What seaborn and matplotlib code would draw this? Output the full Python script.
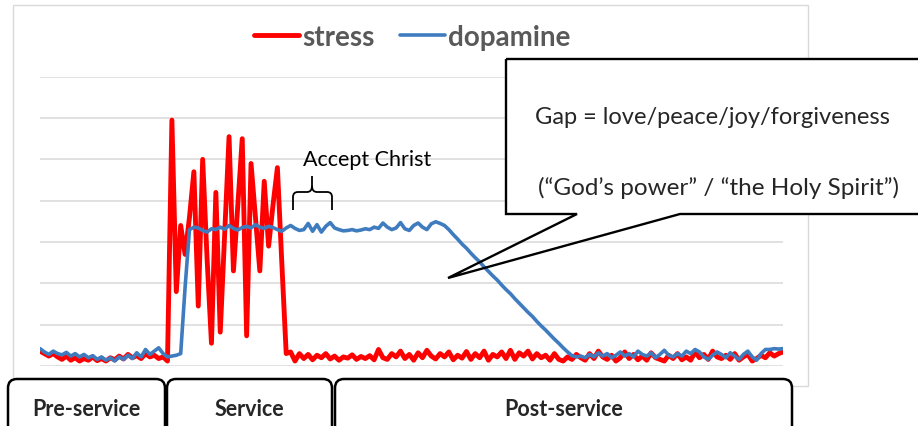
import numpy as np
import matplotlib
matplotlib.use("Agg")
import matplotlib.pyplot as plt
import seaborn as sns
from matplotlib.patches import Rectangle, FancyBboxPatch, Polygon, PathPatch
from matplotlib.path import Path

W, H = 918, 427

# stress level, one reading per time step
stress_pre = [0.36, 0.30, 0.24, 0.30, 0.22, 0.16, 0.24, 0.14, 0.20, 0.12,
              0.18, 0.14, 0.22, 0.13, 0.18, 0.12, 0.20, 0.15, 0.24, 0.17,
              0.28, 0.20, 0.25, 0.18, 0.30, 0.22, 0.26, 0.18, 0.22, 0.12]
stress_service = [5.95, 1.8, 3.4, 2.7, 3.6, 4.7, 1.45, 5.0, 2.6, 0.55,
                  4.2, 0.82, 3.2, 5.55, 2.3, 3.9, 5.5, 0.73, 4.9, 3.6,
                  2.3, 4.47, 2.9, 3.9, 4.8, 2.5, 0.3]
stress_post = [0.34, 0.12, 0.30, 0.18, 0.28, 0.15, 0.26, 0.20, 0.30, 0.17,
               0.24, 0.14, 0.22, 0.19, 0.27, 0.16, 0.23, 0.18, 0.25, 0.15,
               0.40, 0.20, 0.16, 0.30, 0.22, 0.36, 0.18, 0.28, 0.14, 0.32,
               0.20, 0.38, 0.24, 0.17, 0.30, 0.22, 0.34, 0.15, 0.26, 0.19,
               0.35, 0.16, 0.30, 0.20, 0.36, 0.14, 0.28, 0.22, 0.34, 0.18,
               0.38, 0.16, 0.32, 0.24, 0.36, 0.17, 0.30, 0.20, 0.26, 0.14,
               0.30, 0.16, 0.12, 0.22, 0.16, 0.28, 0.20, 0.14, 0.30, 0.18,
               0.36, 0.22, 0.16, 0.26, 0.12, 0.20, 0.34, 0.18, 0.28, 0.15,
               0.24, 0.14, 0.32, 0.20, 0.16, 0.12, 0.26, 0.18, 0.30, 0.15,
               0.22, 0.14, 0.34, 0.20, 0.28, 0.16, 0.36, 0.22, 0.18, 0.26,
               0.16, 0.30, 0.14, 0.22, 0.28, 0.12, 0.18, 0.26, 0.20, 0.32,
               0.24, 0.30, 0.34]

# dopamine level, same time steps
dopamine_pre = [0.42, 0.34, 0.28, 0.36, 0.30, 0.27, 0.33, 0.24, 0.30, 0.22,
                0.28, 0.20, 0.25, 0.16, 0.22, 0.14, 0.20, 0.12, 0.22, 0.16,
                0.26, 0.18, 0.32, 0.22, 0.40, 0.28, 0.36, 0.44, 0.30, 0.22,
                0.24, 0.26, 0.30, 1.9]
dopamine_service = [3.30, 3.36, 3.34, 3.28, 3.24, 3.32, 3.30, 3.36, 3.31, 3.40,
                    3.33, 3.29, 3.35, 3.38, 3.34, 3.42, 3.36, 3.33, 3.38, 3.35,
                    3.30, 3.26, 3.34]
dopamine_plateau = [3.40, 3.33, 3.28, 3.30, 3.45, 3.26, 3.42, 3.24, 3.38, 3.47,
                    3.34, 3.30, 3.27, 3.28, 3.30, 3.27, 3.29, 3.32, 3.30, 3.36,
                    3.33, 3.46, 3.36, 3.30, 3.34, 3.47, 3.32, 3.28, 3.40, 3.46,
                    3.36, 3.30, 3.44, 3.49, 3.45, 3.40]
dopamine_decline = [3.30, 3.18, 3.07, 2.95, 2.85, 2.73, 2.62, 2.52, 2.40, 2.29,
                    2.18, 2.08, 1.96, 1.85, 1.75, 1.63, 1.52, 1.41, 1.30, 1.20,
                    1.08, 0.97, 0.87, 0.76, 0.65, 0.55, 0.44, 0.34, 0.25]
dopamine_low = [0.22, 0.24, 0.20, 0.28, 0.22, 0.32, 0.24, 0.30, 0.20, 0.26,
                0.34, 0.24, 0.30, 0.22, 0.36, 0.28, 0.24, 0.32, 0.20, 0.28,
                0.38, 0.26, 0.22, 0.30, 0.24, 0.36, 0.30, 0.40, 0.34, 0.22,
                0.16, 0.26, 0.34, 0.28, 0.20, 0.32, 0.24, 0.16, 0.28, 0.36,
                0.22, 0.14, 0.30, 0.40, 0.40, 0.42, 0.41, 0.42]

series_names = ["stress", "dopamine"]
series_colors = ["#ff0000", "#3f7cbf"]
phase_labels = ["Pre-service", "Service", "Post-service"]

stress = np.array(stress_pre + stress_service + stress_post)
dopamine = np.array(dopamine_pre + dopamine_service + dopamine_plateau
                    + dopamine_decline + dopamine_low)
t = np.arange(len(stress))

sns.set_style("white")
plt.rcParams["font.family"] = ["Lato", "DejaVu Sans"]

fig = plt.figure(figsize=(W / 100, H / 100), dpi=100)
fig.patch.set_facecolor("white")


def fx(px):
    return px / W


def fy(py):
    return 1 - py / H


# outer chart frame
frame_ax = fig.add_axes([0, 0, 1, 1], zorder=0)
frame_ax.set_xlim(0, W)
frame_ax.set_ylim(H, 0)
frame_ax.axis("off")
frame_ax.add_patch(Rectangle((13, 6), 795, 381, fill=False, ec="#d9d9d9", lw=1.0))

ax = fig.add_axes([fx(40), fy(367), fx(783) - fx(40), fy(77.7) - fy(367)], zorder=1)
ax.patch.set_alpha(0)
sns.lineplot(x=t, y=stress, color=series_colors[0], lw=3.5, label=series_names[0], ax=ax)
sns.lineplot(x=t, y=dopamine, color=series_colors[1], lw=2.6, label=series_names[1], ax=ax)
ax.set_xlim(0, len(t) - 1)
ax.set_ylim(0, 7)
ax.set_yticks(range(8))
ax.set_xticks([])
ax.grid(axis="y", color="#d9d9d9", lw=1.1)
ax.tick_params(left=False, labelleft=False, bottom=False)
for s in ax.spines.values():
    s.set_visible(False)
ax.set_xlabel("")
ax.set_ylabel("")
ax.legend(loc="center", bbox_to_anchor=(fx(412), fy(38)), bbox_transform=fig.transFigure,
          ncol=2, frameon=False, handlelength=1.65, handletextpad=0.1, columnspacing=0.9,
          prop={"family": "Lato", "weight": "bold", "size": 20}, labelcolor="#595959")

# annotation layer in pixel coordinates
ov = fig.add_axes([0, 0, 1, 1], zorder=2)
ov.set_xlim(0, W)
ov.set_ylim(H, 0)
ov.axis("off")
ov.patch.set_alpha(0)

ov.text(367.5, 166, "Accept Christ", ha="center", va="baseline", fontsize=15.5, color="black")
brace = Path(
    [(293, 211), (293, 198), (293, 193), (298, 193), (307, 193), (312, 193), (312, 187), (312, 177),
     (312, 187), (312, 193), (317, 193), (327, 193), (332, 193), (332, 198), (332, 211)],
    [Path.MOVETO, Path.LINETO, Path.CURVE3, Path.CURVE3, Path.LINETO, Path.CURVE3, Path.CURVE3, Path.LINETO,
     Path.MOVETO, Path.CURVE3, Path.CURVE3, Path.LINETO, Path.CURVE3, Path.CURVE3, Path.LINETO])
ov.add_patch(PathPatch(brace, fill=False, ec="black", lw=1.3))

# callout box with pointer
ov.add_patch(Rectangle((506, 60), 430, 155, fc="white", ec="none"))
ov.add_patch(Polygon([(506, 60), (930, 60), (930, 215), (680, 215), (448, 279), (577, 215), (506, 215)],
                     closed=True, fill=False, ec="black", lw=1.7, joinstyle="miter"))
ov.text(712, 117, "Gap = love/peace/joy/forgiveness", ha="center", va="center", fontsize=17)
ov.text(718, 188, "(\u201cGod\u2019s power\u201d / \u201cthe Holy Spirit\u201d)", ha="center", va="center",
        fontsize=17.5)

# phase boxes along the bottom
phase_spans = [(8, 165), (167, 332), (335, 792)]
for (x0, x1), lab in zip(phase_spans, phase_labels):
    ov.add_patch(FancyBboxPatch((x0, 380), x1 - x0, 90, boxstyle="round,pad=0,rounding_size=9",
                                fc="white", ec="black", lw=1.8))
    ov.text((x0 + x1) / 2, 410, lab, ha="center", va="center", fontsize=15.5, fontweight="bold")

fig.savefig("out.png", dpi=100)
